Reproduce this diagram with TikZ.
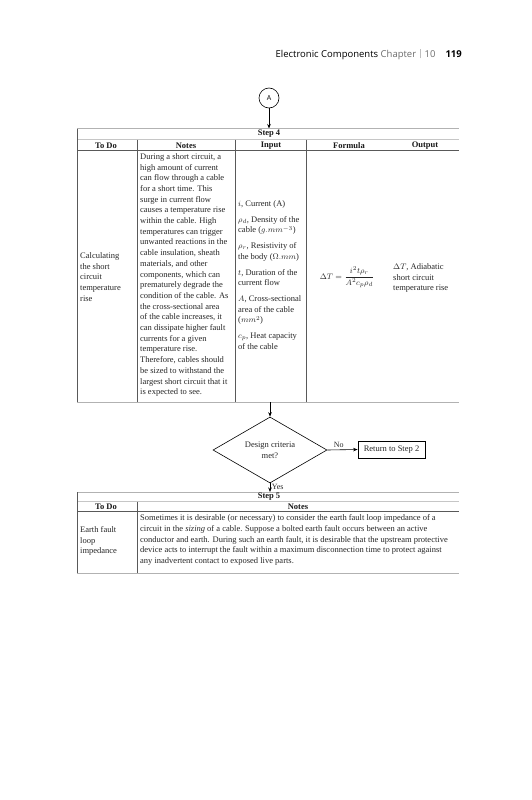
\documentclass[tikz,border=0pt]{standalone}
\usepackage{amsmath}
\usepackage{fontspec}
\setmainfont{Liberation Serif}
\newfontfamily\hdrfont{Open Sans}
\usetikzlibrary{arrows.meta,shapes.geometric}
\begin{document}
\begin{tikzpicture}[x=1pt,y=-1pt,
  rule/.style={draw=gray!60, line width=0.6pt},
  thickrule/.style={draw=gray!45, line width=1.4pt},
  vrule/.style={draw=gray!70!black, line width=0.6pt},
  txt/.style={font=\fontsize{8.5}{10.7}\selectfont, text=black!85, inner sep=0pt, align=left},
  hdr/.style={font=\fontsize{8.5}{10}\selectfont\bfseries, text=black!90, inner sep=0pt},
  conn/.style={draw=black, line width=0.6pt, -{Stealth[length=4.5pt,width=3.5pt]}},
  lbl/.style={font=\fontsize{8}{9}\selectfont, text=black!85, inner sep=1.5pt}
]
\useasboundingbox (0,0) rectangle (531,800);

% page header
\node[anchor=base east, inner sep=0pt, font=\hdrfont\fontsize{9.5}{11}\selectfont] (pagehdr) at (462,57)
  {Electronic Components \textcolor{gray!85!black}{Chapter}\hspace{4pt}\textcolor{gray!50}{\rule[-1.5pt]{0.5pt}{10pt}}\hspace{4pt}\textcolor{gray!85!black}{10}\hspace{10pt}\textbf{119}};

% connector A
\node[circle, draw, line width=0.6pt, minimum size=20pt, inner sep=0pt, font=\hdrfont\fontsize{7}{8}\selectfont] (A) at (269,98) {A};
\coordinate (s4top) at (269,128.5);
\draw[conn] (A) -- (s4top);

% ---------- Step 4 table ----------
\draw[rule] (77,128.5) -- (459,128.5);
\node[hdr] (s4title) at (269,134) {Step 4};
\draw[thickrule] (77,139.5) -- (459,139.5);
\node[hdr] (h1) at (106,145.3) {To Do};
\node[hdr] (h2) at (186,145.3) {Notes};
\node[hdr] (h3) at (271,145.3) {Input};
\node[hdr] (h4) at (349,145.3) {Formula};
\node[hdr] (h5) at (425,145.3) {Output};
\draw[vrule] (77,150.7) -- (459,150.7);
\draw[vrule] (77,128.5) -- (77,402);
\draw[vrule] (137,139.5) -- (137,402);
\draw[vrule] (235,139.5) -- (235,402);
\draw[vrule] (306,139.5) -- (306,402);
\draw[rule] (77,402) -- (459,402);

\node[txt, anchor=west] (todo4) at (80,277) {Calculating\\the short\\circuit\\temperature\\rise};
\node[txt, anchor=west] (notes4) at (140,275) {During a short circuit, a\\
high amount of current\\
can flow through a cable\\
for a short time. This\\
surge in current flow\\
causes a temperature rise\\
within the cable. High\\
temperatures can trigger\\
unwanted reactions in the\\
cable insulation, sheath\\
materials, and other\\
components, which can\\
prematurely degrade the\\
condition of the cable. As\\
the cross-sectional area\\
of the cable increases, it\\
can dissipate higher fault\\
currents for a given\\
temperature rise.\\
Therefore, cables should\\
be sized to withstand the\\
largest short circuit that it\\
is expected to see.};
\node[txt, anchor=west] (input4) at (238,275) {$i$, Current (A)\\[5pt]
$\rho_d$, Density of the\\ cable ($g.mm^{-3}$)\\[5pt]
$\rho_r$, Resistivity of\\ the body ($\Omega.mm$)\\[5pt]
$t$, Duration of the\\ current flow\\[5pt]
$A$, Cross-sectional\\ area of the cable\\ ($mm^{2}$)\\[5pt]
$c_p$, Heat capacity\\ of the cable};
\node[txt] (formula4) at (347,277) {$\Delta T=\dfrac{i^{2}t\rho_r}{A^{2}c_p\rho_d}$};
\node[txt, anchor=west] (output4) at (393,278) {$\Delta T$, Adiabatic\\short circuit\\temperature rise};

% ---------- decision ----------
\node[diamond, draw, line width=0.6pt, shape aspect=1.84, minimum width=114pt, minimum height=66pt, inner sep=0pt, txt, align=center] (dec) at (270,450) {Design criteria\\met?};
\coordinate (s4bot) at (270,402);
\draw[conn] (s4bot) -- (dec.north);
\node[draw, line width=0.8pt, minimum width=67pt, minimum height=17pt, inner sep=0pt, txt, align=center] (ret) at (391.5,449.5) {Return to Step 2};
\draw[conn] (dec.east) -- node[lbl, pos=0.38, above] {No} (ret.west);
\coordinate (s5top) at (270,492);
\draw[conn] (dec.south) -- node[lbl, pos=0.4, right] {Yes} (s5top);

% ---------- Step 5 table ----------
\draw[rule] (77,492) -- (459,492);
\node[hdr] (s5title) at (269,497) {Step 5};
\draw[thickrule] (77,501.5) -- (459,501.5);
\node[hdr] (g1) at (106,506.5) {To Do};
\node[hdr] (g2) at (298,506.5) {Notes};
\draw[vrule] (77,511.5) -- (459,511.5);
\draw[vrule] (77,492) -- (77,573);
\draw[vrule] (137,501.5) -- (137,573);
\draw[rule] (77,573) -- (459,573);

\node[txt, anchor=west] (todo5) at (80,541) {Earth fault\\loop\\impedance};
\node[txt, anchor=west] (notes5) at (140,540) {Sometimes it is desirable (or necessary) to consider the earth fault loop impedance of a\\
circuit in the \emph{sizing} of a cable. Suppose a bolted earth fault occurs between an active\\
conductor and earth. During such an earth fault, it is desirable that the upstream protective\\
device acts to interrupt the fault within a maximum disconnection time to protect against\\
any inadvertent contact to exposed live parts.};
\end{tikzpicture}
\end{document}
